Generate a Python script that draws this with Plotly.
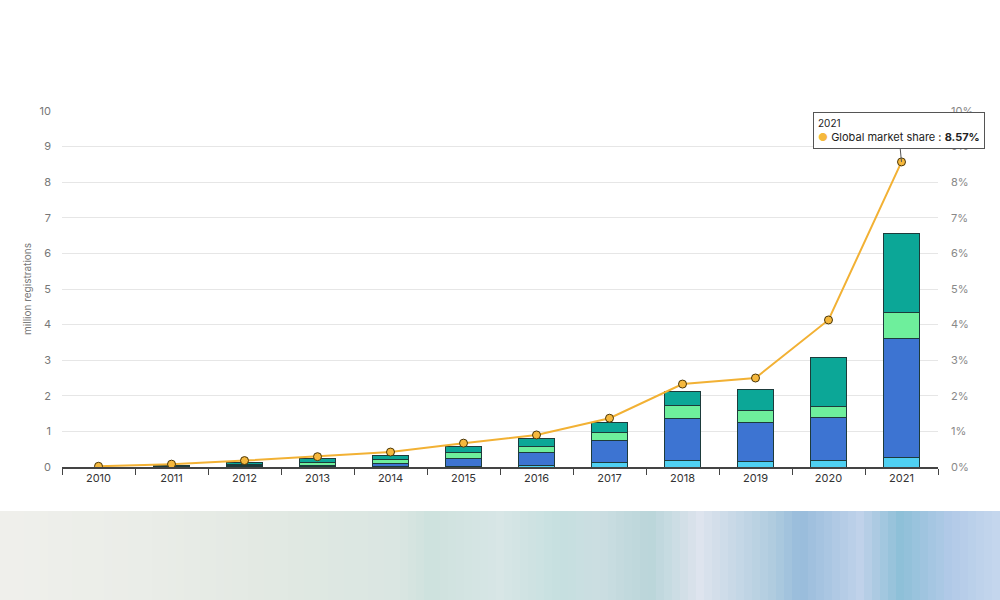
import plotly.graph_objects as go
import numpy as np

years = ["2010", "2011", "2012", "2013", "2014", "2015", "2016", "2017", "2018", "2019", "2020", "2021"]
rest_of_world = [0.0, 0.0, 0.01, 0.01, 0.02, 0.02, 0.04, 0.12, 0.18, 0.16, 0.17, 0.28]
china = [0.0, 0.01, 0.02, 0.03, 0.07, 0.22, 0.38, 0.63, 1.17, 1.08, 1.21, 3.34]
usa = [0.0, 0.02, 0.05, 0.10, 0.12, 0.17, 0.17, 0.21, 0.38, 0.34, 0.31, 0.71]
europe = [0.0, 0.02, 0.05, 0.09, 0.11, 0.18, 0.21, 0.30, 0.38, 0.61, 1.38, 2.24]
market_share = [0.02, 0.08, 0.18, 0.29, 0.42, 0.67, 0.90, 1.37, 2.33, 2.50, 4.13, 8.57]
left_ticks = list(range(0, 11))
right_ticks = list(range(0, 11))

PL, PR, PT, PB = 62, 938, 111, 467
W = PR - PL
H = PB - PT

fig = go.Figure()
series = [
    ("Rest of world", rest_of_world, "#4fd0f2"),
    ("China", china, "#3d74d2"),
    ("United States", usa, "#6eef9c"),
    ("Europe", europe, "#0ca797"),
]
for name, vals, col in series:
    fig.add_trace(go.Bar(
        x=years, y=vals, name=name, width=0.5,
        marker=dict(color=col, line=dict(color="#1d3b3b", width=1)),
    ))

fig.add_trace(go.Scatter(
    x=years, y=market_share, yaxis="y2", mode="lines+markers",
    name="Global market share",
    line=dict(color="#f2b134", width=2),
    marker=dict(size=8, color="#f5b83d", line=dict(color="#4a3608", width=1)),
))

fig.update_layout(
    width=1000, height=600,
    margin=dict(l=PL, r=1000 - PR, t=PT, b=600 - PB),
    paper_bgcolor="white", plot_bgcolor="white",
    barmode="stack", showlegend=False, hovermode=False,
    font=dict(family="Inter, Roboto, sans-serif", color="#555"),
    xaxis=dict(
        type="category", range=[-0.5, 11.5],
        showline=True, linecolor="#444", linewidth=1.5,
        ticks="outside", tickson="boundaries", ticklen=6, tickcolor="#444",
        tickfont=dict(size=11, color="#333"), showgrid=False,
    ),
    yaxis=dict(
        range=[0, 10], tickvals=left_ticks, ticktext=[str(v) for v in left_ticks],
        showgrid=True, gridcolor="#e6e6e6", gridwidth=1, zeroline=False,
        tickfont=dict(size=11, color="#777"), ticklabelstandoff=10,
        title=dict(text="million registrations", font=dict(size=10, color="#777"), standoff=6),
    ),
    yaxis2=dict(
        range=[0, 10], overlaying="y", side="right",
        tickvals=right_ticks, ticktext=[f"{v}%" for v in right_ticks],
        showgrid=False, zeroline=False,
        tickfont=dict(size=11, color="#888"), ticklabelstandoff=12,
    ),
)

fig.add_annotation(
    x=11, y=market_share[-1], xref="x", yref="y",
    text=('<span style="font-size:10px">' + years[-1] + "</span><br>"
          + '<span style="color:#f5b83d">●</span> Global market share : <b>'
          + f"{market_share[-1]:.2f}%</b>"),
    showarrow=True, arrowhead=0, arrowcolor="#555", arrowwidth=1,
    ax=-3, ay=-31, align="left",
    bgcolor="white", bordercolor="#555", borderwidth=1, borderpad=4,
    font=dict(size=11, color="#222"),
)

# blurred decorative band at the bottom
stops_px = [0, 150, 250, 330, 400, 430, 500, 560, 600, 650, 700, 770, 800, 860, 900, 950, 1000]
stops_col = [(240, 240, 236), (234, 237, 232), (228, 234, 228), (222, 232, 226), (218, 230, 226),
             (206, 226, 222), (216, 230, 230), (198, 224, 224), (204, 222, 226), (186, 214, 218),
             (222, 228, 238), (178, 206, 224), (152, 188, 220), (192, 210, 234), (142, 192, 216),
             (178, 202, 232), (198, 216, 238)]
step = 8
sp = np.array(stops_px, dtype=float)
sc = np.array(stops_col, dtype=float)
for x0 in range(0, 1000, step):
    xc = x0 + step / 2
    c = [int(np.interp(xc, sp, sc[:, k])) for k in range(3)]
    fig.add_shape(
        type="rect", xref="paper", yref="paper", layer="below",
        x0=(x0 - PL) / W, x1=(x0 + step + 1 - PL) / W,
        y0=(PB - 600) / H, y1=(PB - 511) / H,
        fillcolor=f"rgb({c[0]},{c[1]},{c[2]})", line=dict(width=0),
    )

fig.write_html("out.html")
